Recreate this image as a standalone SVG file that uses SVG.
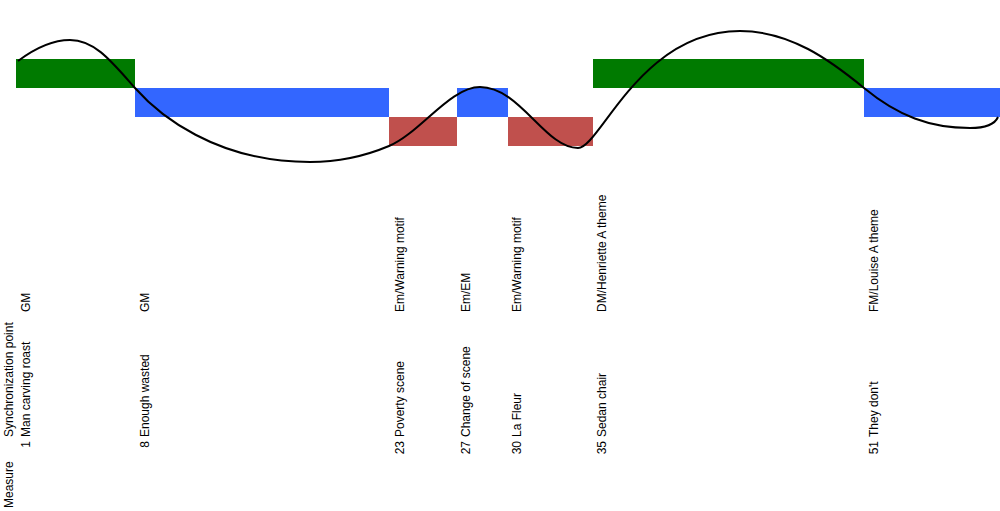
<svg xmlns="http://www.w3.org/2000/svg" width="1000" height="511" viewBox="0 0 1000 511">
<style>
.t{font-family:"Liberation Sans",Arial,sans-serif;font-size:12px;fill:#000}
.g{fill:#007A00}
.b{fill:#3366FF}
.r{fill:#C0504D}
.curve{fill:none;stroke:#000;stroke-width:2}
</style>
<rect width="1000" height="511" fill="#fff"/>
<g id="bars">
<rect id="bar-1" class="g" x="16" y="59" width="119" height="29"/>
<rect id="bar-8" class="b" x="135" y="88" width="254" height="29"/>
<rect id="bar-23" class="r" x="389" y="117" width="68" height="29"/>
<rect id="bar-27" class="b" x="457" y="88" width="51" height="29"/>
<rect id="bar-30" class="r" x="508" y="117" width="85" height="29"/>
<rect id="bar-35" class="g" x="593" y="59" width="271" height="29"/>
<rect id="bar-51" class="b" x="864" y="88" width="136" height="29"/>
</g>
<g id="connectors">
<path class="curve" d="M18,61 C30,52 50,40 70,40 C95,40 112,62 135,88 C158,114 215,162 310,162 C345,162 370,154 389,146 C420,133 450,87 480,87 C520,87 545,148 578,148 C600,148 640,31 740,31 C790,31 830,60 864,88 C898,116 930,128 970,128 C985,128 995,124 998,117"/>
</g>
<g id="header">
<text class="t" transform="translate(13,508) rotate(-90)">Measure</text>
<text class="t" transform="translate(13,437) rotate(-90)">Synchronization point</text>
</g>
<g id="sp-1">
<text class="t" text-anchor="end" transform="translate(30,441) rotate(-90)">1</text>
<text class="t" transform="translate(30,437) rotate(-90)">Man carving roast</text>
<text class="t" transform="translate(30,312) rotate(-90)">GM</text>
</g>
<g id="sp-8">
<text class="t" text-anchor="end" transform="translate(149,441) rotate(-90)">8</text>
<text class="t" transform="translate(149,437) rotate(-90)">Enough wasted</text>
<text class="t" transform="translate(149,312) rotate(-90)">GM</text>
</g>
<g id="sp-23">
<text class="t" text-anchor="end" transform="translate(404,441) rotate(-90)">23</text>
<text class="t" transform="translate(404,437) rotate(-90)">Poverty scene</text>
<text class="t" transform="translate(404,312) rotate(-90)">Em/Warning motif</text>
</g>
<g id="sp-27">
<text class="t" text-anchor="end" transform="translate(470,441) rotate(-90)">27</text>
<text class="t" transform="translate(470,437) rotate(-90)">Change of scene</text>
<text class="t" transform="translate(470,312) rotate(-90)">Em/EM</text>
</g>
<g id="sp-30">
<text class="t" text-anchor="end" transform="translate(521,441) rotate(-90)">30</text>
<text class="t" transform="translate(521,437) rotate(-90)">La Fleur</text>
<text class="t" transform="translate(521,312) rotate(-90)">Em/Warning motif</text>
</g>
<g id="sp-35">
<text class="t" text-anchor="end" transform="translate(606,441) rotate(-90)">35</text>
<text class="t" transform="translate(606,437) rotate(-90)">Sedan chair</text>
<text class="t" transform="translate(606,312) rotate(-90)">DM/Henriette A theme</text>
</g>
<g id="sp-51">
<text class="t" text-anchor="end" transform="translate(878,441) rotate(-90)">51</text>
<text class="t" transform="translate(878,437) rotate(-90)">They don't</text>
<text class="t" transform="translate(878,312) rotate(-90)">FM/Louise A theme</text>
</g>
</svg>
